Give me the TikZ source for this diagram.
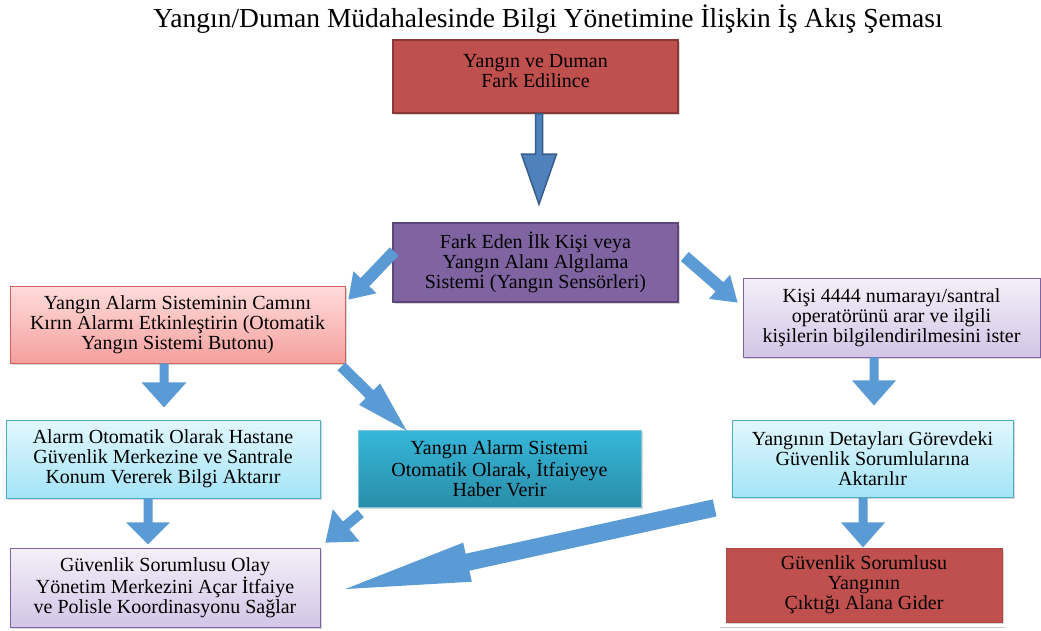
\documentclass[tikz,border=0pt]{standalone}
\usepackage{fontspec}
\setmainfont{Liberation Serif}
\usetikzlibrary{calc,shadows}
\definecolor{redbox}{HTML}{C0504D}
\definecolor{reddark}{HTML}{8C3836}
\definecolor{purplebox}{HTML}{8064A2}
\definecolor{purpledark}{HTML}{5C4776}
\definecolor{pinktop}{HTML}{FFDCDB}
\definecolor{pinkbot}{HTML}{F4A09E}
\definecolor{pinkline}{HTML}{D0605C}
\definecolor{lavtop}{HTML}{F4F0F9}
\definecolor{lavbot}{HTML}{D3C5E6}
\definecolor{cyantop}{HTML}{E2F7FD}
\definecolor{cyanbot}{HTML}{A3E4F7}
\definecolor{cyanline}{HTML}{4BACC6}
\definecolor{tealtop}{HTML}{36B7DA}
\definecolor{tealbot}{HTML}{2A8DA8}
\definecolor{arrowblue}{HTML}{5B9BD5}
\definecolor{arrowtop}{HTML}{4F81BD}
\definecolor{arrowdark}{HTML}{385D8A}
% block arrow: [style]{start}{end}{shaft half width}{head half width}{head length}
\newcommand{\barrow}[6][]{%
  \coordinate (ba-h) at ($(#3)!#6!(#2)$);
  \path[blockarrow,#1] ($(#2)!#4!90:(#3)$) -- ($(ba-h)!#4!90:(#3)$)
    -- ($(ba-h)!#5!90:(#3)$) -- (#3) -- ($(ba-h)!#5!-90:(#3)$)
    -- ($(ba-h)!#4!-90:(#3)$) -- ($(#2)!#4!-90:(#3)$) -- cycle;}
\begin{document}
\begin{tikzpicture}[x=1pt,y=-1pt,
  box/.style={align=center, inner sep=0pt, font=\fontsize{20}{20}\selectfont,
    drop shadow={shadow xshift=2pt,shadow yshift=-2pt,opacity=.3}},
  redstyle/.style={box, fill=redbox, draw=reddark, line width=1.6pt},
  redplain/.style={box, fill=redbox, draw=redbox!90!black, line width=0.8pt},
  purplestyle/.style={box, fill=purplebox, draw=purpledark, line width=1.6pt},
  pinkstyle/.style={box, top color=pinktop, bottom color=pinkbot, draw=pinkline, line width=0.8pt},
  lavstyle/.style={box, top color=lavtop, bottom color=lavbot, draw=purplebox, line width=0.8pt},
  cyanstyle/.style={box, top color=cyantop, bottom color=cyanbot, draw=cyanline, line width=0.8pt},
  tealstyle/.style={box, top color=tealtop, bottom color=tealbot, draw=cyanline!70!white, line width=0.8pt},
  blockarrow/.style={fill=arrowblue}
]
\useasboundingbox[fill=white] (0,0) rectangle (1041,630);

\node[font=\fontsize{27.5}{27.5}\selectfont, anchor=base] (title) at (548,27)
  {Yangın/Duman Müdahalesinde Bilgi Yönetimine İlişkin İş Akış Şeması};

\node[redstyle, minimum width=285pt, minimum height=73pt, text depth=12pt] (A) at (535.5,76.5)
  {Yangın ve Duman\\Fark Edilince};
\node[purplestyle, minimum width=285pt, minimum height=79pt] (B) at (535.5,262.5)
  {Fark Eden İlk Kişi veya\\Yangın Alanı Algılama\\Sistemi (Yangın Sensörleri)};
\node[pinkstyle, minimum width=335pt, minimum height=77pt] (C) at (177.5,324.5)
  {Yangın Alarm Sisteminin Camını\\Kırın Alarmı Etkinleştirin (Otomatik\\Yangın Sistemi Butonu)};
\node[lavstyle, minimum width=297pt, minimum height=79pt] (D) at (891.5,317.5)
  {Kişi 4444 numarayı/santral\\operatörünü arar ve ilgili\\kişilerin bilgilendirilmesini ister};
\node[cyanstyle, minimum width=314pt, minimum height=78pt] (E) at (163,459)
  {Alarm Otomatik Olarak Hastane\\Güvenlik Merkezine ve Santrale\\Konum Vererek Bilgi Aktarır};
\node[tealstyle, minimum width=283pt, minimum height=77pt] (F) at (499.5,468.5)
  {Yangın Alarm Sistemi\\Otomatik Olarak, İtfaiyeye\\Haber Verir};
\node[cyanstyle, minimum width=281pt, minimum height=77pt] (G) at (872.5,458.5)
  {Yangının Detayları Görevdeki\\Güvenlik Sorumlularına\\Aktarılır};
\node[lavstyle, minimum width=310pt, minimum height=79pt] (H) at (165,587.5)
  {Güvenlik Sorumlusu Olay\\Yönetim Merkezini Açar İtfaiye\\ve Polisle Koordinasyonu Sağlar};
\node[redplain, minimum width=276pt, minimum height=74pt] (I) at (864,585)
  {Güvenlik Sorumlusu\\Yangının\\Çıktığı Alana Gider};

\draw[gray!45, line width=1.5pt] ($(I.south west)+(-6,5)$) -- ($(I.south east)+(3,5)$);

% arrow end points
\coordinate (a1s) at ($(A.south)+(3.5,0)$);
\coordinate (a1e) at ($(B.north)+(3.5,-18)$);
\coordinate (a2s) at ($(B.west)+(2,-11)$);
\coordinate (a2e) at ($(C.north east)+(3,14)$);
\coordinate (a3s) at ($(B.east)+(6,-6)$);
\coordinate (a3e) at ($(D.north west)+(-5,25)$);
\coordinate (a4s) at ($(C.south)+(-13.5,0)$);
\coordinate (a4e) at ($(C.south)+(-13.5,44)$);
\coordinate (a5s) at ($(C.south east)+(-4,3)$);
\coordinate (a5e) at ($(F.north west)+(49,1)$);
\coordinate (a6s) at ($(D.south)+(-17.5,0)$);
\coordinate (a6e) at ($(D.south)+(-17.5,48)$);
\coordinate (a7s) at ($(E.south)+(-15,0)$);
\coordinate (a7e) at ($(E.south)+(-15,46)$);
\coordinate (a8s) at ($(G.south)+(-9.5,0)$);
\coordinate (a8e) at ($(G.south)+(-9.5,50)$);
\coordinate (a9s) at ($(F.south west)+(3,6)$);
\coordinate (a9e) at ($(H.north east)+(5,-5)$);
\coordinate (a10s) at ($(G.south west)+(-17,10.5)$);
\coordinate (a10e) at ($(H.east)+(25,1.5)$);

\barrow[fill=arrowtop, draw=arrowdark, line width=1.5pt]{a1s}{a1e}{3.5pt}{17.5pt}{50pt}
\barrow{a2s}{a2e}{6pt}{16pt}{24pt}
\barrow{a3s}{a3e}{6pt}{16pt}{24pt}
\barrow{a4s}{a4e}{4.5pt}{22.5pt}{25pt}
\barrow{a5s}{a5e}{5.5pt}{15pt}{52pt}
\barrow{a6s}{a6e}{4.5pt}{22pt}{25pt}
\barrow{a7s}{a7e}{4.5pt}{22pt}{22pt}
\barrow{a8s}{a8e}{4.5pt}{22pt}{25pt}
\barrow{a9s}{a9e}{5pt}{21pt}{27pt}
\barrow{a10s}{a10e}{8.7pt}{20pt}{125pt}
\end{tikzpicture}
\end{document}
